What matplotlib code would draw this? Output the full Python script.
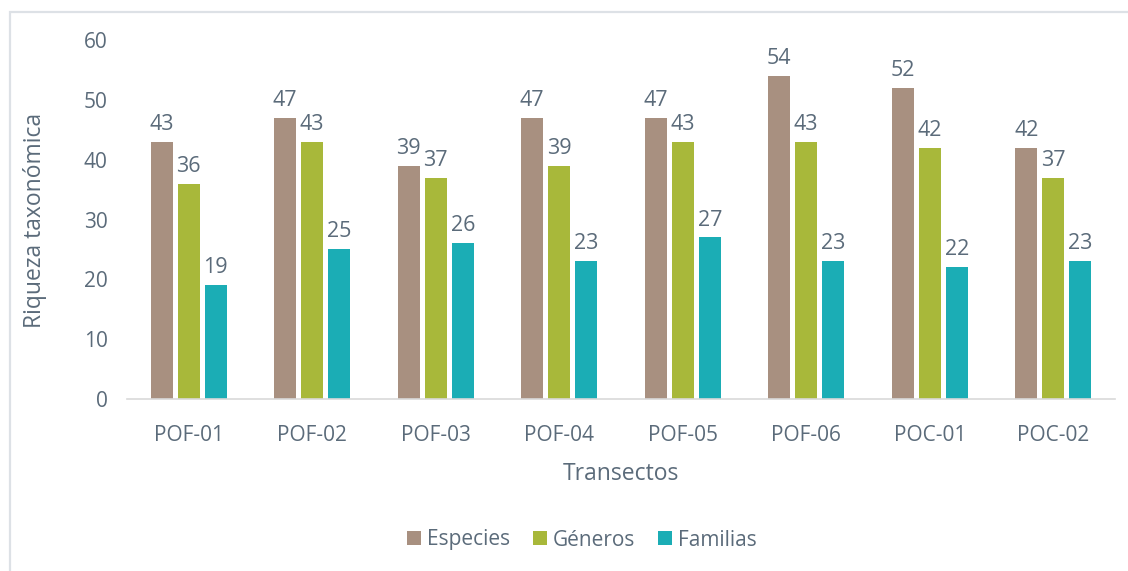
import matplotlib.pyplot as plt
import numpy as np
from matplotlib.patches import Rectangle

transectos = ['POF-01', 'POF-02', 'POF-03', 'POF-04', 'POF-05', 'POF-06', 'POC-01', 'POC-02']
especies = [43, 47, 39, 47, 47, 54, 52, 42]
generos = [36, 43, 37, 39, 43, 43, 42, 37]
familias = [19, 25, 26, 23, 27, 23, 22, 23]

series = [('Especies', especies, '#A89080'),
          ('Géneros', generos, '#A8B83A'),
          ('Familias', familias, '#1BADB5')]

txt = '#5B6B7A'
plt.rcParams['font.family'] = ['Open Sans', 'DejaVu Sans']

fig = plt.figure(figsize=(11.28, 5.71), dpi=100)
W, H = 1128, 571
ax = fig.add_axes([127 / W, 1 - 399 / H, (1115 - 127) / W, (399 - 40) / H])

# light frame around the chart area (runs off the right and bottom edges)
fig.patches.append(Rectangle((10 / W, -0.05), 1.2, 1 - 12 / H + 0.05,
                             transform=fig.transFigure, fill=False,
                             edgecolor='#DDE1E6', lw=1.6))

x = np.arange(len(transectos))
w = 0.178
step = 0.219
for i, (name, vals, col) in enumerate(series):
    bars = ax.bar(x + (i - 1) * step, vals, w, color=col, label=name)
    ax.bar_label(bars, padding=5, fontsize=15.5, color=txt)

ax.set_xlim(-0.5, len(transectos) - 0.5)
ax.set_ylim(0, 60)
ax.set_yticks(range(0, 61, 10))
ax.set_xticks(x, transectos)
ax.tick_params(axis='both', length=0, labelsize=15, colors=txt)
ax.tick_params(axis='y', pad=14)
ax.tick_params(axis='x', pad=19)
for s in ['top', 'right', 'left']:
    ax.spines[s].set_visible(False)
ax.spines['bottom'].set_color('#D9D9D9')
ax.spines['bottom'].set_linewidth(1.2)

ax.set_xlabel('Transectos', fontsize=16.5, color=txt, labelpad=11)
fig.text(35 / W, 1 - 220 / H, 'Riqueza taxonómica', rotation=90,
         ha='center', va='center', fontsize=16.5, color=txt)

fig.legend(loc='center', bbox_to_anchor=(582 / W, 1 - 540 / H), ncol=3,
           frameon=False, fontsize=15, labelcolor=txt, handlelength=0.65,
           handleheight=0.65, columnspacing=1.1, handletextpad=0.3)

fig.savefig('out.png', dpi=100)
